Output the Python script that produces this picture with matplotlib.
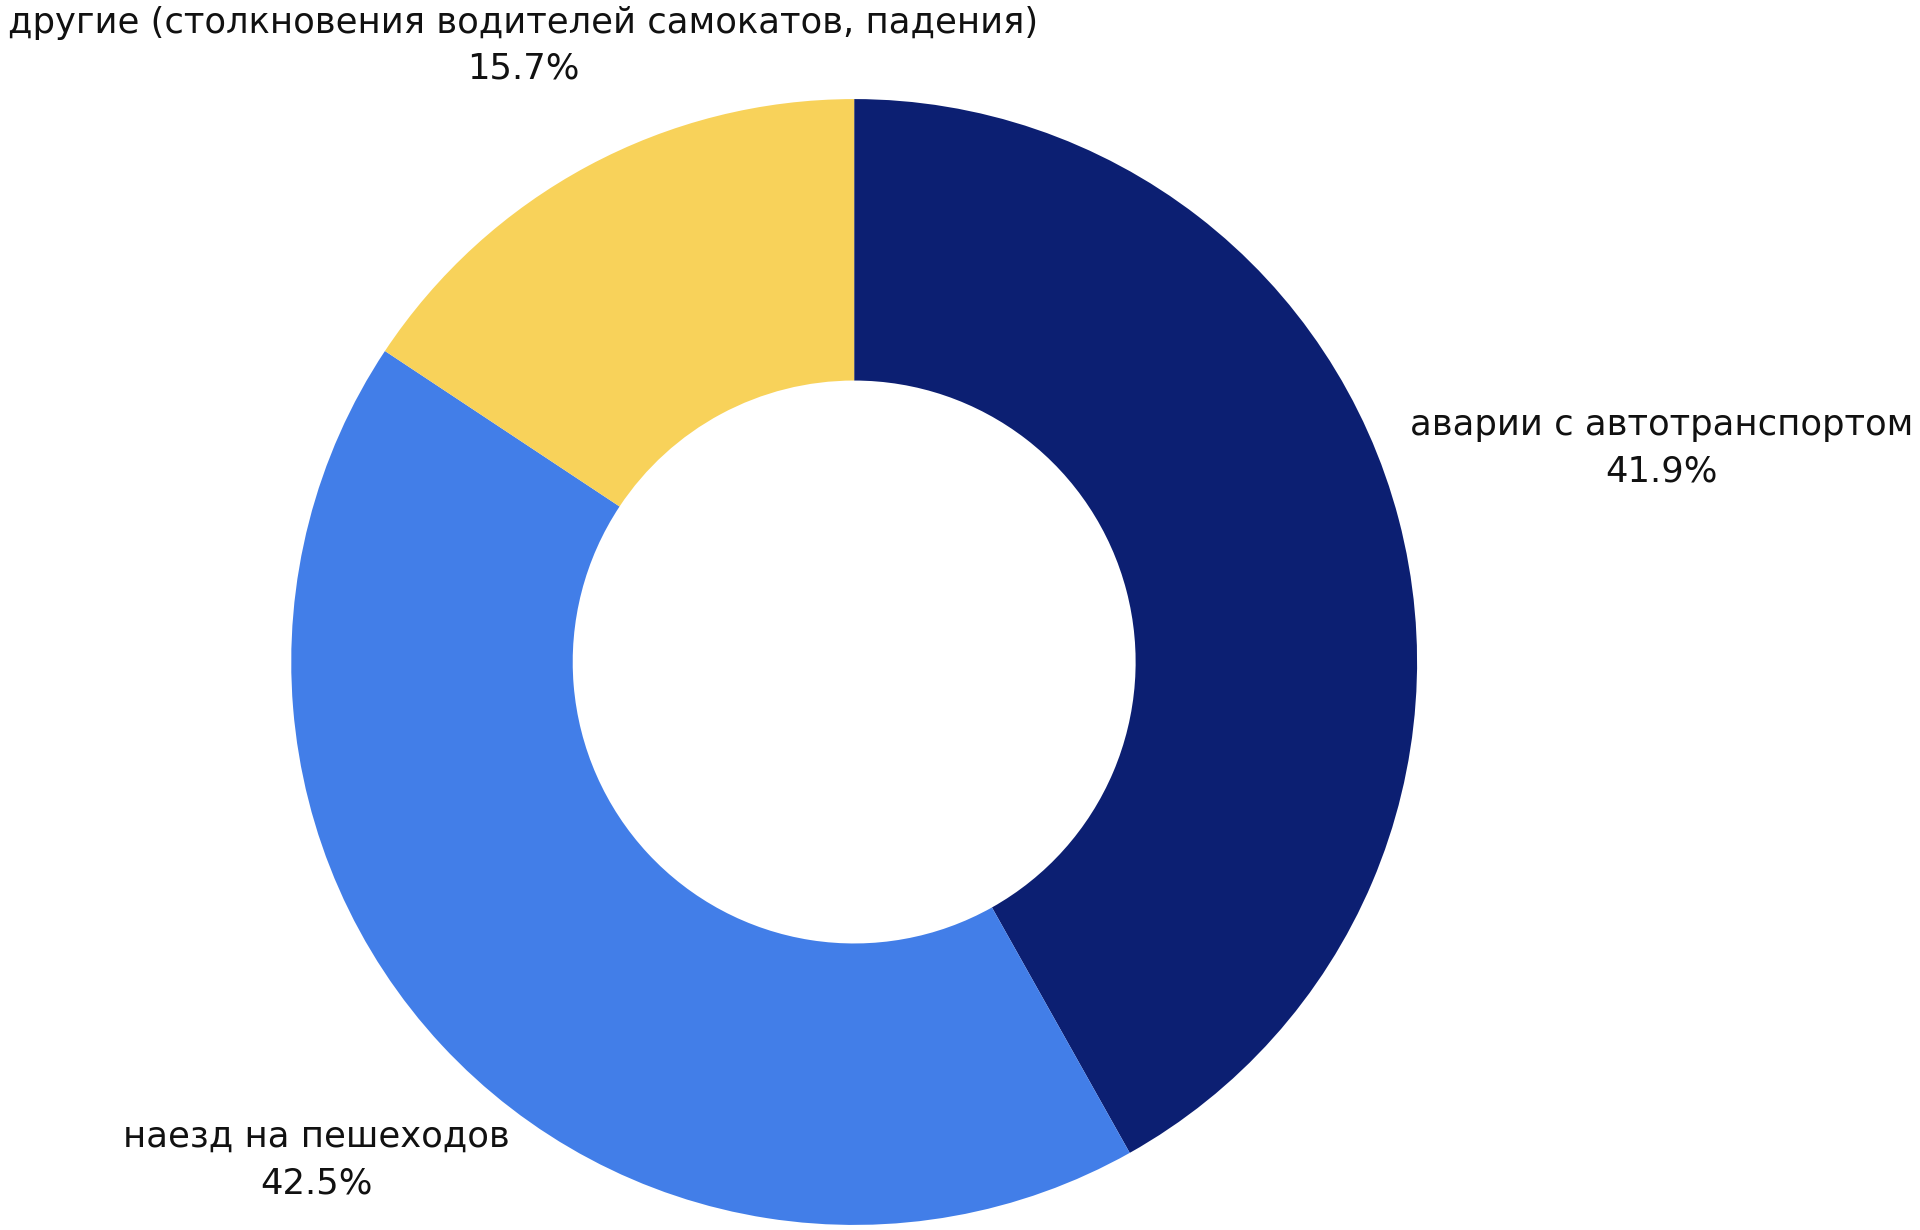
import matplotlib
matplotlib.use('Agg')
import matplotlib.pyplot as plt

# Data
labels = ['аварии с автотранспортом', 'наезд на пешеходов',
          'другие (столкновения водителей самокатов, падения)']
values = [41.9, 42.5, 15.7]
colors = ['#0c1f72', '#427ee8', '#f8d25a']

# label block centres (data units, radius = 1)
label_pos = [(1.435, 0.380), (-0.956, -0.885), (-0.588, 1.095)]

plt.rcParams['font.family'] = ['DejaVu Sans']

fig = plt.figure(figsize=(19.2, 12.3), dpi=100)
ax = fig.add_axes([0, 0, 1, 1])
ax.pie(values, colors=colors, startangle=90, counterclock=False, radius=1,
       wedgeprops=dict(width=0.5, linewidth=0))
ax.set_xlim(-1.517, 1.893)
ax.set_ylim(-1.009, 1.176)
ax.set_aspect('equal')
ax.axis('off')

for lab, val, (x, y) in zip(labels, values, label_pos):
    ax.text(x, y, f'{lab}\n{val}%', ha='center', va='center',
            fontsize=25.5, color='#111111', linespacing=1.45)

fig.savefig('out.png', dpi=100)
